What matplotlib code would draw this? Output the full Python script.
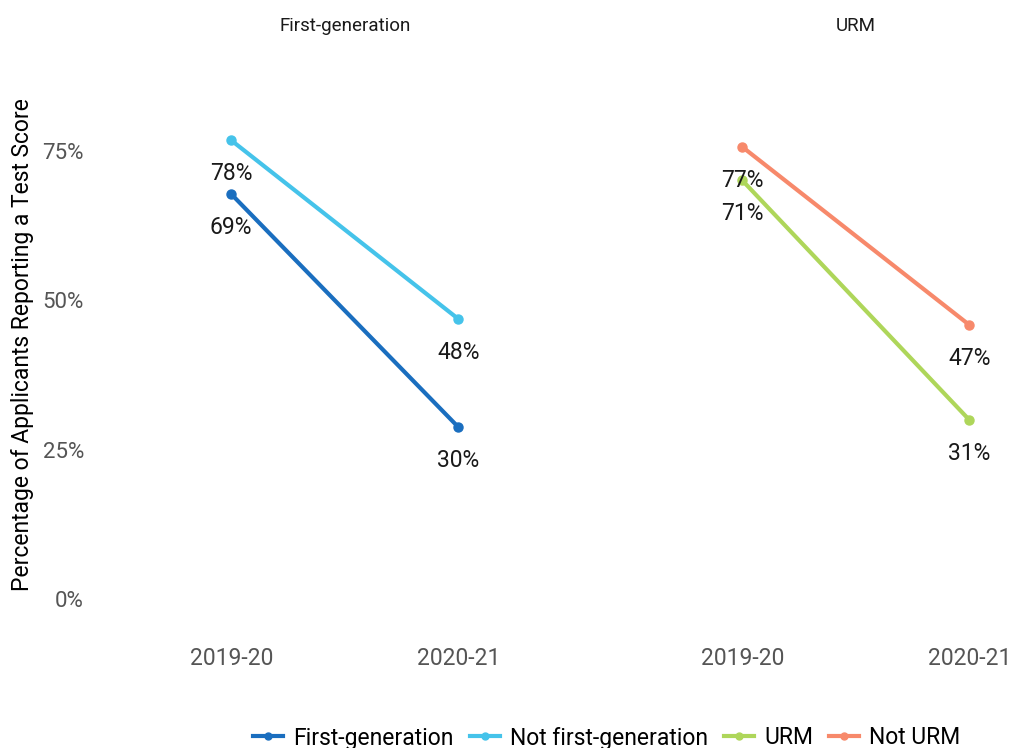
import matplotlib
matplotlib.use("Agg")
import matplotlib.pyplot as plt
from matplotlib.lines import Line2D
import matplotlib.transforms as mtransforms

plt.rcParams['font.family'] = ['Roboto', 'DejaVu Sans']

years = ["2019-20", "2020-21"]
panels = ["First-generation", "URM"]
series_names = [["First-generation", "Not first-generation"], ["URM", "Not URM"]]
series_values = [[[0.678, 0.288], [0.768, 0.469]],
                 [[0.701, 0.300], [0.757, 0.459]]]
series_labels = [[["69%", "30%"], ["78%", "48%"]],
                 [["71%", "31%"], ["77%", "47%"]]]
series_colors = [["#1a6ebf", "#45c3ea"], ["#aed65a", "#f7896b"]]
yticks = [0, 0.25, 0.5, 0.75]
ytick_labels = ["0%", "25%", "50%", "75%"]

W, H = 1011, 748
fig = plt.figure(figsize=(W / 100, H / 100), dpi=100)

def px_to_val(py):
    return (599 - py) / 597.3

ylo, yhi = px_to_val(640), px_to_val(50)
unit = 227.0
axes_specs = [(95, 594), (606, 1011)]
for i, (l, r) in enumerate(axes_specs):
    ax = fig.add_axes([l / W, 1 - 640 / H, (r - l) / W, 590 / H])
    ax.set_xlim(-0.6, -0.6 + (r - l) / unit)
    ax.set_ylim(ylo, yhi)
    for s in ax.spines.values():
        s.set_visible(False)
    ax.tick_params(length=0)
    ax.set_xticks(range(len(years)))
    ax.set_xticklabels(years, fontsize=16.5, color="#555555")
    ax.tick_params(axis='x', pad=5)
    if i == 0:
        ax.set_yticks(yticks)
        ax.set_yticklabels(ytick_labels, fontsize=16, color="#555555")
        ax.tick_params(axis='y', pad=8)
        ax.set_ylabel("Percentage of Applicants Reporting a Test Score",
                      fontsize=16.5, color="black", labelpad=6)
    else:
        ax.set_yticks([])
    for j in range(2):
        vals = series_values[i][j]
        ax.plot(range(len(years)), vals, color=series_colors[i][j], lw=3,
                marker='o', ms=6.5, solid_capstyle='butt')
        for k, v in enumerate(vals):
            ax.annotate(series_labels[i][j][k], (k, v), xytext=(0, -24),
                        textcoords='offset points', ha='center', va='center',
                        fontsize=16.5, color="#1a1a1a")
    trans = mtransforms.blended_transform_factory(ax.transData, fig.transFigure)
    ax.text(0.5, 1 - 26 / H, panels[i], transform=trans, ha='center',
            va='center', fontsize=13.5, color="#1a1a1a")

handles = []
labels = []
for i in range(2):
    for j in range(2):
        handles.append(Line2D([0], [0], color=series_colors[i][j], lw=3,
                              marker='o', ms=5))
        labels.append(series_names[i][j])
fig.legend(handles, labels, loc='center', bbox_to_anchor=(607 / W, 1 - 738 / H),
           ncol=4, frameon=False, fontsize=16.5, handlelength=1.3,
           handletextpad=0.45, columnspacing=0.7)

fig.savefig("out.png", dpi=100)
